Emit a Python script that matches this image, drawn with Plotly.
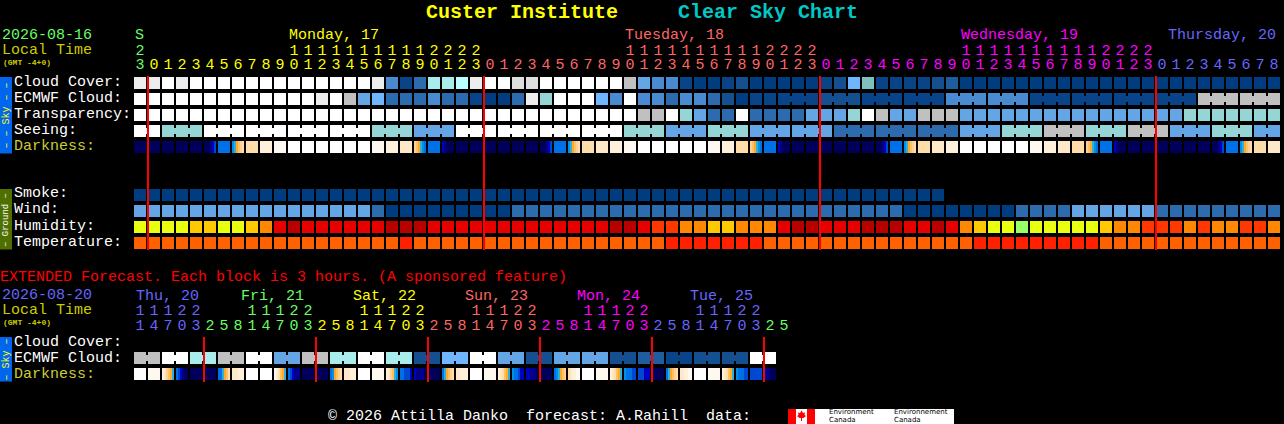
import plotly.graph_objects as go

# ---------- data: block levels, one letter per hour block ----------
cloud_cover = ("eeWeWWWWWW" "WWWWWWWemq" "nttceWWddW" "WWWWWglmmq" "rrqprrrrrq"
               "pLkqqqqpor" "rrrrrrrrrr" "rrrrrrrrrr" "rr")
ecmwf_cloud = ("WWWWWWWWWW" "WWWeWglLnn" "nmnnqrrneT" "WWWLmWmmnm" "mnprqqqqqp"
               "ppqqqqqqmm" "mmmmqqqqqq" "qqqqqqgggg" "gg")
transparency = ("WWWWWWWWWW" "WWWWWWWWWW" "WWWWWWWWWW" "WWWWWWggWT" "lnnWnnnnll"
                "lTWgllgggl" "llllllllll" "lllllTTTTT" "TT")
seeing = ("WWTTTWWWWW" "WWWWWWWTTT" "lllWWWWWWW" "WWWWWTTTll" "lTTTllllll"
          "nnnnnnnnnl" "llTTTgggTT" "TggglllTTT" "ll")
smoke = ("rrrrrrrrrr" "rrrrrrrrrr" "rrrrrrrrrr" "rrrrrrrrrr" "rrrrrrrrrr" "rrrrrrrr")
wind = ("llllllllll" "lllllllnrr" "rrrrrrrnnn" "nnnnnnnnnn" "nnnnnnnnnn"
        "nnnnnrrrrr" "rrrnnnnlll" "lllnnnnnnn" "nn")
humidity = ("YYYYOOYYOA" "RDRRRRRRDD" "DRRRRRRRRR" "RRRRDDRSSA" "AOOAAARDDR"
            "RRDDDRRDRA" "OYYGYYYYYO" "AASSSASAAS" "SA")
temperature = ("FFFFFFFFFF" "FFFFFFFFFH" "FFFFFFFFFF" "FFFFFFFFHH" "HHHHHFFFFF"
               "FFFFFFFFFF" "HHHHHHHHHF" "FFFFFFFFFF" "FF")
darkness = ["a", "a", "a", "a", "a", "aaabcd", "e", "fghijk", "k", "m", "n", "o", "o", "o", "o", "o",
            "o", "n", "m", "l", "jihgfe", "e", "cbaaaa", "a", "a", "a", "a", "a", "a", "aaabcd", "e",
            "fghijk", "k", "l", "m", "n", "o", "o", "o", "o", "o", "n", "m", "k", "jihgfe", "e", "cbaaaa",
            "a", "a", "a", "a", "a", "a", "aaabcd", "e", "fghijk", "k", "l", "m", "o", "o", "o", "o", "o",
            "n", "m", "l", "k", "jihgfe", "e", "cbaaaa", "a", "a", "a", "a", "a", "a", "aaabcd", "e",
            "fghijk", "k", "l"]

ext_ecmwf = "ggWWttggWWllggttWWttppLLWWllppllllppooqqppppWW"
ext_darkness = ["o", "n", "mljihg", "edcbaa", "a", "a", "eeghik", "lllmmm", "o", "o", "nmkihg", "edcbbb",
                "a", "a", "efhijk", "lllmmm", "o", "n", "mljigf", "eedddc", "cbbbba", "a", "eghijk",
                "llmmmm", "o", "n", "mlkihg", "feedcc", "ccbbba", "a", "efghij", "klmmnn", "o", "n",
                "mlkihg", "feeedd", "dddccc", "a", "eghijk", "llmmnn", "o", "n", "mlkihg", "feeedd",
                "dddddd", "cbbaaa"]

seeing_groups = [2] + [3] * 26 + [2]
ecmwf_groups = [1] * 46 + [3] * 12
ext_groups = [2] * 23

hours = [23] + list(range(24)) + list(range(24)) + list(range(24)) + list(range(9))
ext_hours = [11, 14, 17, 20, 23] + [2, 5, 8, 11, 14, 17, 20, 23] * 5 + [2, 5]
midnight_cells = [1, 25, 49, 73]
ext_midnight_cells = [5, 13, 21, 29, 37, 45]

day_labels = [("Monday, 17", 288.5, "#FFFF00"), ("Tuesday, 18", 624.5, "#FF6666"),
              ("Wednesday, 19", 960.5, "#FF00FF"), ("Thursday, 20", 1167.5, "#6666FF")]
ext_day_labels = [("Thu, 20", 135.5, "#6666FF"), ("Fri, 21", 240.5, "#66FF66"), ("Sat, 22", 352.5, "#FFFF00"),
                  ("Sun, 23", 464.5, "#FF6666"), ("Mon, 24", 577, "#FF00FF"), ("Tue, 25", 689.5, "#6666FF")]
row_labels = [("Cloud Cover:", 82), ("ECMWF Cloud:", 98), ("Transparency:", 114), ("Seeing:", 130),
              ("Smoke:", 194), ("Wind:", 210), ("Humidity:", 226), ("Temperature:", 242),
              ("Cloud Cover:", 342), ("ECMWF Cloud:", 358)]

# ---------- styles ----------
BLOCK = {"W": "#FFFFFF", "e": "#EDEDED", "d": "#DEDEDE", "g": "#C0C0C0", "c": "#B8FFFF", "t": "#A8ECEC",
         "T": "#95D5D5", "k": "#80BFBF", "L": "#6FB5FF", "l": "#63A5E5", "m": "#4A8AD0", "n": "#2C6BAE",
         "o": "#1E5EA0", "p": "#144F90", "q": "#0A4488", "r": "#003C80",
         "Y": "#E8FF10", "O": "#FFC800", "A": "#FF8800", "S": "#FF3800", "R": "#E60000", "D": "#B80000",
         "G": "#99FF66", "F": "#FF6000", "H": "#FF2000"}
DARK = {"a": "#00005A", "b": "#00008A", "c": "#0000C0", "d": "#0048D0", "e": "#0070E8", "f": "#0090E8",
        "g": "#30B0D8", "h": "#FFA830", "i": "#FFC060", "j": "#FFD090", "k": "#FFDCA8", "l": "#FFE8C8",
        "m": "#FFF0DC", "n": "#FFF8F0", "o": "#FFFFFF"}
MONO = "Liberation Mono"
W, H = 1284, 424
CELL = 12 / 14          # block width in cell units
SUB = 2 / 14            # darkness sub-block
ROW = 0.75              # block height in row units
BRIDGE = 0.375


def hour_colour(day_index):
    return ["#66FF66", "#FFFF00", "#FF6666", "#FF00FF", "#6666FF"][day_index]


fig = go.Figure()


def block_row(name, levels, r, groups=None):
    fig.add_bar(name=name, x=list(range(len(levels))), y=[ROW] * len(levels),
                base=[r - ROW / 2] * len(levels), width=[CELL] * len(levels),
                marker=dict(color=[BLOCK[c] for c in levels], line_width=0), hoverinfo="skip")
    if groups:
        bx, bc, i = [], [], 0
        for g in groups:
            for j in range(i, i + g - 1):
                bx.append(j + 0.5)
                bc.append(BLOCK[levels[j]])
            i += g
        if bx:
            fig.add_bar(name=name + " join", x=bx, y=[BRIDGE] * len(bx), base=[r - BRIDGE / 2] * len(bx),
                        width=[SUB * 1.2] * len(bx), marker=dict(color=bc, line_width=0), hoverinfo="skip")


def dark_row(name, cells, r):
    xs, cs = [], []
    for i, cell in enumerate(cells):
        pattern = cell if len(cell) == 6 else cell * 6
        for k, ch in enumerate(pattern):
            xs.append(i - 6 / 14 + (k + 0.5) * SUB)
            cs.append(DARK[ch])
    fig.add_bar(name=name, x=xs, y=[ROW] * len(xs), base=[r - ROW / 2] * len(xs), width=[SUB] * len(xs),
                marker=dict(color=cs, line_width=0), hoverinfo="skip")


EXT_R = 17.1875
block_row("Cloud Cover", cloud_cover, 0)
block_row("ECMWF Cloud", ecmwf_cloud, 1, ecmwf_groups)
block_row("Transparency", transparency, 2)
block_row("Seeing", seeing, 3, seeing_groups)
dark_row("Darkness", darkness, 4)
block_row("Smoke", smoke, 7)
block_row("Wind", wind, 8)
block_row("Humidity", humidity, 9)
block_row("Temperature", temperature, 10)
block_row("Extended ECMWF Cloud", ext_ecmwf, EXT_R, ext_groups)
dark_row("Extended Darkness", ext_darkness, EXT_R + 1)

# midnight markers
for cells, top, bottom in ((midnight_cells, -0.4375, 10.4375), (ext_midnight_cells, 15.875, 18.6875)):
    lx, ly = [], []
    for c in cells:
        lx += [c - 0.43, c - 0.43, None]
        ly += [top, bottom, None]
    fig.add_scatter(x=lx, y=ly, mode="lines", line=dict(color="#FF0000", width=2), hoverinfo="skip")

# hour digits
main_days, d = [], 0
for i, h in enumerate(hours):
    if i > 0 and h == 0:
        d += 1
    main_days.append(d)
tens_x = [i for i, h in enumerate(hours) if h >= 10]
fig.add_scatter(x=tens_x, y=[-2.0] * len(tens_x), mode="text", text=[str(hours[i] // 10) for i in tens_x],
                textfont=dict(family=MONO, size=15, color=[hour_colour(main_days[i]) for i in tens_x]),
                textposition="middle center", hoverinfo="skip")
fig.add_scatter(x=list(range(len(hours))), y=[-1.09] * len(hours), mode="text",
                text=[str(h % 10) for h in hours],
                textfont=dict(family=MONO, size=15, color=[hour_colour(x) for x in main_days]),
                textposition="middle center", hoverinfo="skip")
ext_days, d = [], 4
for i, h in enumerate(ext_hours):
    if i > 0 and ext_hours[i - 1] > h:
        d = 0 if d == 4 else d + 1
    ext_days.append(d)
e_tens = [i for i, h in enumerate(ext_hours) if h >= 10]
fig.add_scatter(x=e_tens, y=[14.28] * len(e_tens), mode="text", text=[str(ext_hours[i] // 10) for i in e_tens],
                textfont=dict(family=MONO, size=15, color=[hour_colour(ext_days[i]) for i in e_tens]),
                textposition="middle center", hoverinfo="skip")
fig.add_scatter(x=list(range(len(ext_hours))), y=[15.19] * len(ext_hours), mode="text",
                text=[str(h % 10) for h in ext_hours],
                textfont=dict(family=MONO, size=15, color=[hour_colour(x) for x in ext_days]),
                textposition="middle center", hoverinfo="skip")


def px(x):
    return x / W


def py(y):
    return 1 - y / H


annotations = []


def label(text, x, y, color="#FFFFFF", size=15, bold=False, angle=0, anchor="left", family=MONO):
    t = text.replace(" ", "\u00a0")
    annotations.append(dict(text=f"<b>{t}</b>" if bold else t, x=px(x), y=py(y), xref="paper", yref="paper",
                            xanchor=anchor, yanchor="middle", showarrow=False, borderpad=0, borderwidth=0,
                            textangle=angle, font=dict(family=family, size=size, color=color)))


label("Custer Institute", 426, 12.5, "#FFFF00", 20, True)
label("Clear Sky Chart", 678, 12.5, "#00C8C8", 20, True)
label("2026-08-16", 2, 35.5, "#66FF66")
label("Local Time", 2, 50.5, "#CCCC00")
label("(GMT -4+0)", 3, 62.5, "#CCCC00", 8, True)
label("S", 135, 35.5, "#66FF66")
for t, x, c in day_labels:
    label(t, x, 36, c)
for t, y in row_labels:
    label(t, 14, y)
label("Darkness:", 14, 146, "#CCCC33")
label("Darkness:", 14, 374, "#CCCC33")
label("EXTENDED Forecast. Each block is 3 hours. (A sponsored feature)", 0, 277.5, "#FF0000")
label("2026-08-20", 2, 295.5, "#6666FF")
label("Local Time", 2, 310.5, "#CCCC00")
label("(GMT -4+0)", 3, 322.5, "#CCCC00", 8, True)
for t, x, c in ext_day_labels:
    label(t, x, 296, c)
label("\u00a9 2026 Attilla Danko  forecast: A.Rahill  data:", 328, 416.5)

SIDE_SKY, SIDE_GROUND = "#0066EE", "#4F6F00"
shapes = []


def rect(x0, y0, x1, y1, color):
    shapes.append(dict(type="rect", xref="paper", yref="paper", x0=px(x0), x1=px(x1), y0=py(y1), y1=py(y0),
                       fillcolor=color, line_width=0, layer="below"))


rect(0, 77, 12, 153.5, SIDE_SKY)
rect(0, 189, 12, 249.5, SIDE_GROUND)
rect(0, 337, 12, 381.5, SIDE_SKY)
label("\u2013 \u2013 Sky \u2013 \u2013", 6, 115.5, "#FFFF00", 10, angle=-90, anchor="center")
label("\u2013 Ground \u2013", 6, 220, "#FFFFFF", 9, angle=-90, anchor="center")
label("\u2013 Sky \u2013", 6, 359.5, "#FFFF00", 10, angle=-90, anchor="center")

# Environment Canada logo
rect(788, 409, 954, 424, "#FFFFFF")
rect(788, 409, 796, 424, "#FF0000")
rect(807, 409, 815, 424, "#FF0000")
leaf = [(801.5, 410.5), (803, 413), (805, 412.5), (804.5, 415), (806, 416), (803.5, 418), (802, 418), (802, 421),
        (801, 421), (801, 418), (799.5, 418), (797, 416), (798.5, 415), (798, 412.5), (800, 413)]
shapes.append(dict(type="path", xref="paper", yref="paper", fillcolor="#FF0000", line_width=0,
                   path="M" + "L".join(f"{px(a):.5f},{py(b):.5f}" for a, b in leaf) + "Z"))
for t, x, y in (("Environment", 829, 412), ("Canada", 829, 419.6), ("Environnement", 894, 412), ("Canada", 894, 419.6)):
    label(t, x, y, "#000000", 7, family="DejaVu Sans")

fig.update_layout(
    width=W, height=H, margin=dict(l=0, r=0, t=0, b=0), paper_bgcolor="#000000", plot_bgcolor="#000000",
    showlegend=False, hovermode=False, barmode="overlay", bargap=0,
    xaxis=dict(visible=False, range=[-140 / 14, (W - 140) / 14], fixedrange=True),
    yaxis=dict(visible=False, range=[(H - 83) / 16, -83 / 16], fixedrange=True),
    annotations=annotations, shapes=shapes,
)
fig.write_html("out.html", config={"displayModeBar": False, "staticPlot": True},
               post_script="document.body.style.margin='0';document.body.style.overflow='hidden';document.body.style.background='#000';")
